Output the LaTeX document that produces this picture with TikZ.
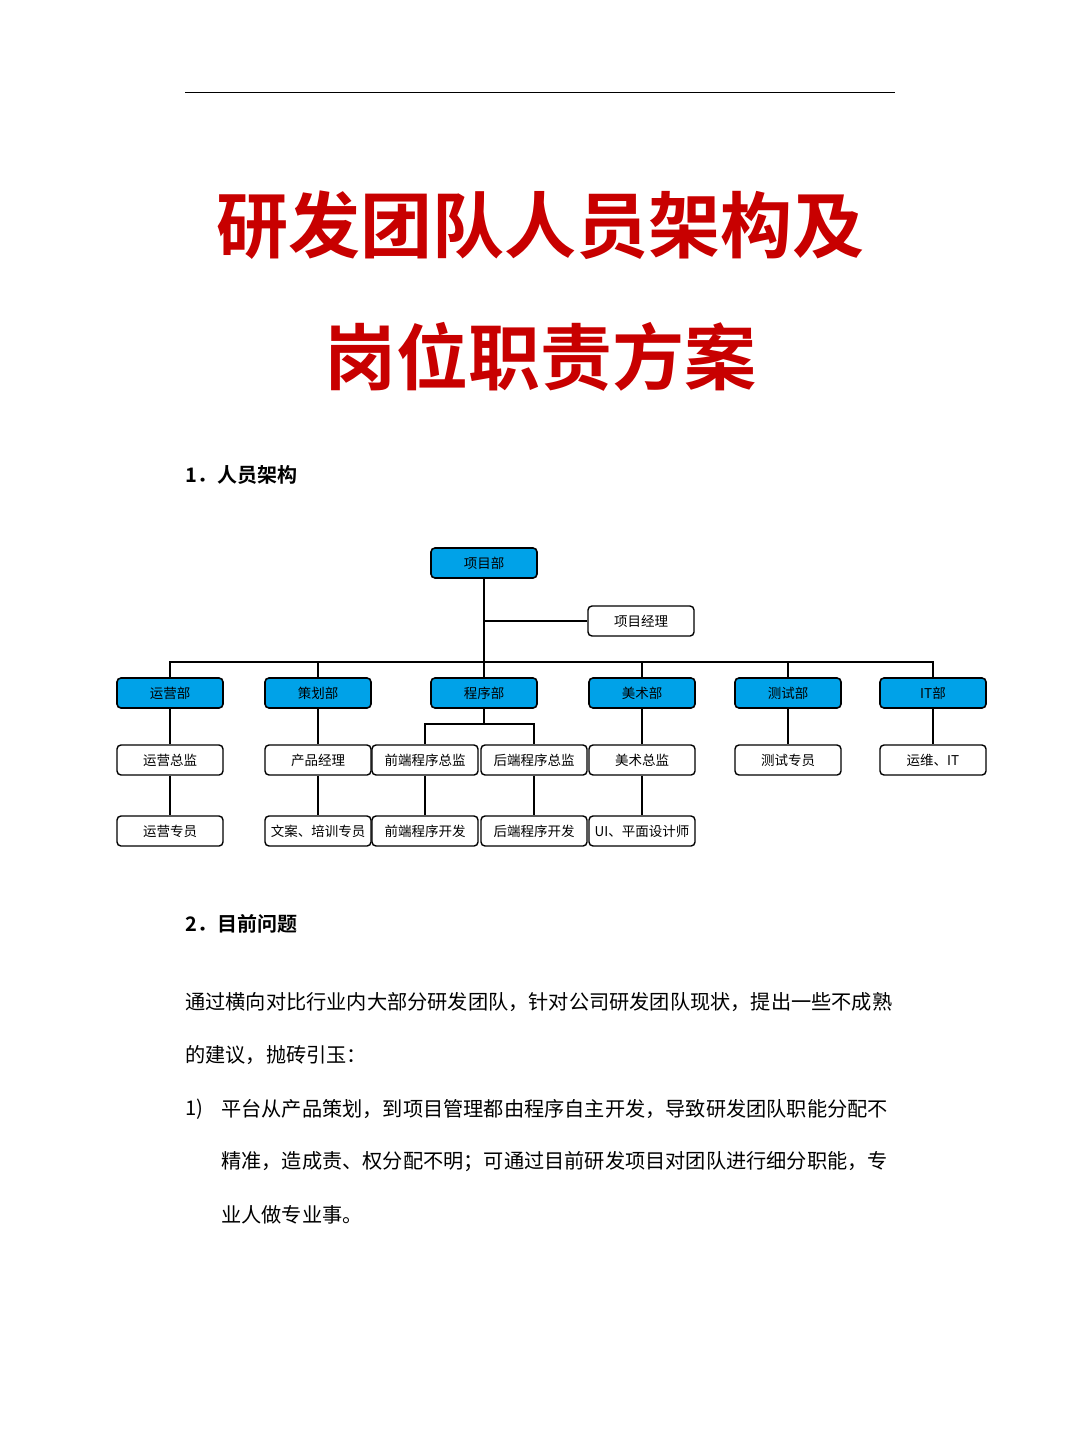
\documentclass[tikz,border=0pt]{standalone}
\usepackage{fontspec}
\setmainfont{Noto Sans CJK SC}
\newfontfamily\cjkb{Noto Sans CJK SC Bold}
\definecolor{hd}{HTML}{00A2E8}
\definecolor{tred}{HTML}{C80000}
\begin{document}
\begin{tikzpicture}[x=1pt,y=-1pt,
  dept/.style={draw=black,line width=1.6pt,rounded corners=4pt,fill=hd,minimum width=106pt,minimum height=30pt,inner sep=0pt,font=\fontsize{13.5}{13.5}\selectfont},
  role/.style={draw=black,line width=1.4pt,rounded corners=4pt,fill=white,minimum width=106pt,minimum height=30pt,inner sep=0pt,font=\fontsize{13.5}{13.5}\selectfont},
  conn/.style={line width=2.2pt},
  body/.style={anchor=west,font=\fontsize{20.2}{20.2}\selectfont,inner sep=0pt}]
\useasboundingbox (0,0) rectangle (1080,1439);
\draw[line width=1pt] (185,93) -- (895,93);
\node[text=tred,font=\cjkb\fontsize{72}{72}\selectfont] (t1) at (540,225) {研发团队人员架构及};
\node[text=tred,font=\cjkb\fontsize{72}{72}\selectfont] (t2) at (540,357) {岗位职责方案};
\node[anchor=west,font=\cjkb\fontsize{20}{20}\selectfont,inner sep=0pt] (h1) at (185,475) {1．人员架构};
\node[anchor=west,font=\cjkb\fontsize{20}{20}\selectfont,inner sep=0pt] (h2) at (185,924) {2．目前问题};

\node[dept] (top) at (484,563) {项目部};
\node[role] (pm) at (641,621) {项目经理};
\node[dept] (d1) at (170,693) {运营部};
\node[dept] (d2) at (318,693) {策划部};
\node[dept] (d3) at (484,693) {程序部};
\node[dept] (d4) at (642,693) {美术部};
\node[dept] (d5) at (788,693) {测试部};
\node[dept] (d6) at (933,693) {IT部};
\node[role] (r1) at (170,760) {运营总监};
\node[role] (r2) at (318,760) {产品经理};
\node[role] (r3a) at (425,760) {前端程序总监};
\node[role] (r3b) at (534,760) {后端程序总监};
\node[role] (r4) at (642,760) {美术总监};
\node[role] (r5) at (788,760) {测试专员};
\node[role] (r6) at (933,760) {运维、IT};
\node[role] (s1) at (170,831) {运营专员};
\node[role] (s2) at (318,831) {文案、培训专员};
\node[role] (s3a) at (425,831) {前端程序开发};
\node[role] (s3b) at (534,831) {后端程序开发};
\node[role] (s4) at (642,831) {UI、平面设计师};

\coordinate (bus) at (484,662);
\coordinate (pb) at (484,621);
\draw[conn] (top.south) -- (d3.north);
\draw[conn] (pb) -- (pm.west);
\foreach \d in {d1,d2,d4,d5,d6} \draw[conn] (bus) -| (\d.north);
\draw[conn] (d3.south) -- ++(0,15) coordinate (sb);
\draw[conn] (sb) -| (r3a.north);
\draw[conn] (sb) -| (r3b.north);
\draw[conn] (d1) -- (r1); \draw[conn] (r1) -- (s1);
\draw[conn] (d2) -- (r2); \draw[conn] (r2) -- (s2);
\draw[conn] (r3a) -- (s3a); \draw[conn] (r3b) -- (s3b);
\draw[conn] (d4) -- (r4); \draw[conn] (r4) -- (s4);
\draw[conn] (d5) -- (r5); \draw[conn] (d6) -- (r6);

\node[body] (p1) at (185,1002) {通过横向对比行业内大部分研发团队，针对公司研发团队现状，提出一些不成熟};
\node[body] (p2) at (185,1055) {的建议，抛砖引玉：};
\node[body] (p3n) at (185,1109) {1)};
\node[body] (p3) at (221,1109) {平台从产品策划，到项目管理都由程序自主开发，导致研发团队职能分配不};
\node[body] (p4) at (221,1162) {精准，造成责、权分配不明；可通过目前研发项目对团队进行细分职能，专};
\node[body] (p5) at (221,1215) {业人做专业事。};
\end{tikzpicture}
\end{document}
